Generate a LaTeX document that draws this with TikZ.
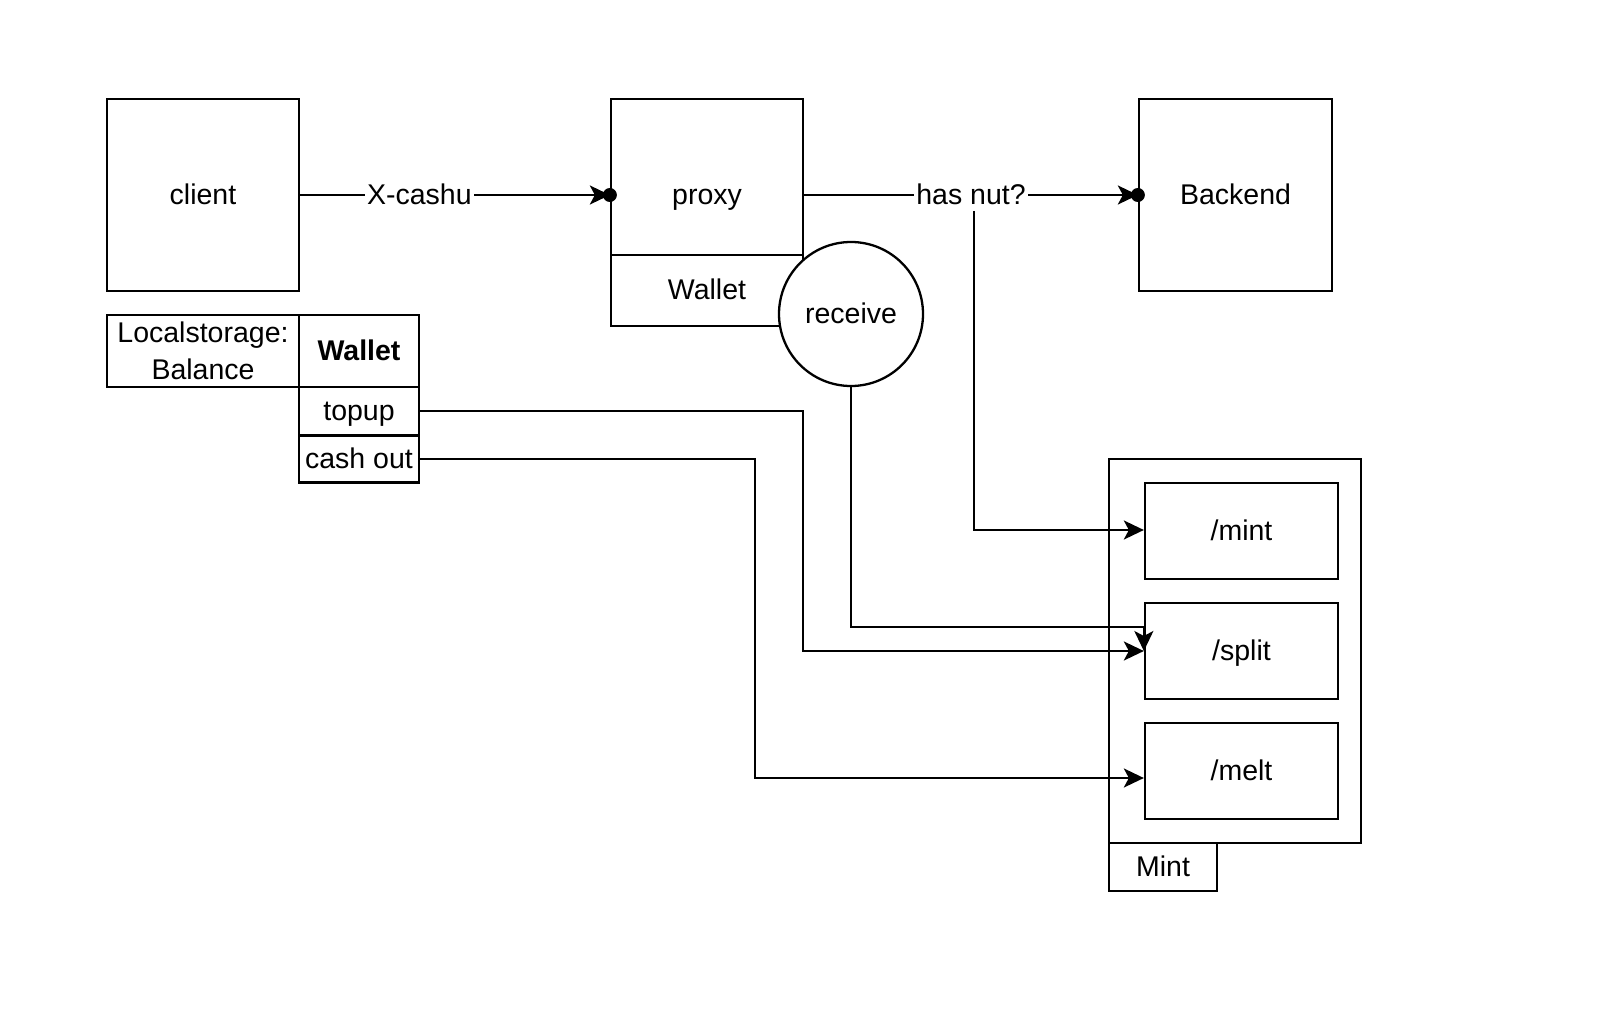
\documentclass[tikz,border=0pt]{standalone}
\usepackage{fontspec}
\setmainfont{Liberation Sans}
\usetikzlibrary{arrows.meta}
\begin{document}
\begin{tikzpicture}[x=0.5pt,y=-0.5pt,
  every node/.style={font=\fontsize{14.25}{18.5}\selectfont},
  boxbase/.style={draw,line width=1.15pt,fill=white,inner sep=1pt,align=center},
  box/.style={boxbase,text height=10.3pt,text depth=1.2pt},
  conn/.style={line width=1.15pt,-{Stealth[length=10pt,width=9.5pt,inset=2.5pt]}},
  lbl/.style={fill=white,inner sep=1pt,text height=10.3pt,text depth=1.2pt},
  dotend/.style={fill=black,circle,inner sep=0pt,minimum size=7pt}]
\useasboundingbox (0,0) rectangle (1600,1016);
% left side
\node[box,minimum width=96pt,minimum height=96pt] (client) at (203,195) {client};
\node[boxbase,minimum width=96pt,minimum height=36pt] (ls) at (203,351) {Localstorage:\\Balance};
\node[box,minimum width=60pt,minimum height=36pt,font=\fontsize{14.25}{18.5}\selectfont\bfseries] (wal) at (359,351) {Wallet};
\node[box,minimum width=60pt,minimum height=24pt] (topup) at (359,411) {topup};
\node[box,minimum width=60pt,minimum height=23.5pt] (cashout) at (359,459) {cash out};
% proxy
\node[box,minimum width=96pt,minimum height=96pt] (proxy) at (707,195) {proxy};
\node[box,minimum width=96pt,minimum height=35.5pt] (pwal) at (707,290.5) {Wallet};
\node[box,circle,minimum size=72pt,inner sep=0pt] (recv) at (851,314) {receive};
% backend
\node[box,minimum width=96.5pt,minimum height=96pt] (backend) at (1235.5,195) {Backend};
% mint
\node[box,minimum width=126pt,minimum height=192pt] (mintc) at (1235,651) {};
\node[box,minimum width=54pt,minimum height=24pt] (minttab) at (1163,867) {Mint};
\node[box,minimum width=96.5pt,minimum height=48pt] (mint) at (1241.5,531) {/mint};
\node[box,minimum width=96.5pt,minimum height=48pt] (split) at (1241.5,651) {/split};
\node[box,minimum width=96.5pt,minimum height=48pt] (melt) at (1241.5,771) {/melt};
% coordinates
\coordinate (meltin) at (melt.west |- 0,778);
\coordinate (splittop) at (split.west |- 0,627);
% connectors
\draw[conn] (client.east) -- node[lbl,pos=0.385] {X-cashu} (proxy.west);
\node[dotend] (d1) at (proxy.west) {};
\draw[conn] (proxy.east) -- node[lbl,pos=0.5] (hn) {has nut?} (backend.west);
\node[dotend] (d2) at (backend.west) {};
\draw[conn] (974,211) -- (974,530) -- (mint.west |- 0,530);
\draw[conn] (topup.east) -- (803,411) -- (803,651) -- (split.west);
\draw[conn] (cashout.east) -- (755,459) -- (755,778) -- (meltin);
\draw[conn] (recv.south) -- (851,627) -- (splittop) -- (split.west);
\end{tikzpicture}
\end{document}
